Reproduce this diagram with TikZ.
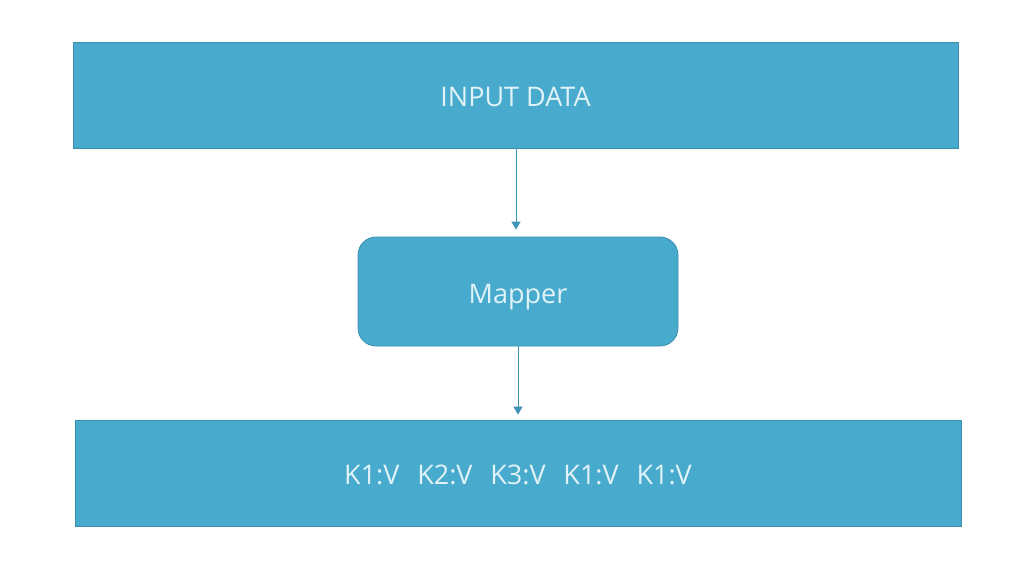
\documentclass[tikz,border=0pt]{standalone}
\usepackage{fontspec}
\setmainfont{Open Sans}
\usepackage{tikz}
\usetikzlibrary{arrows.meta}
\definecolor{boxblue}{RGB}{72,170,204}
\definecolor{edgeblue}{RGB}{58,143,175}
\definecolor{textwhite}{RGB}{225,243,248}
\tikzset{
  bar/.style={draw=edgeblue, line width=0.8, fill=boxblue, text=textwhite,
    minimum height=106, inner sep=0, text height=19.5, text depth=0,
    font=\fontsize{27}{32}\selectfont},
  flow/.style={draw=edgeblue!80!boxblue, line width=1, -{Triangle[length=8,width=9]}}
}
\begin{document}
\begin{tikzpicture}[x=1pt,y=-1pt]
\useasboundingbox (0,0) rectangle (1023,566);
\node[bar, minimum width=885] (input) at (515.5,95) {\raisebox{-2pt}{INPUT DATA}};
\node[bar, minimum width=320, minimum height=109, rounded corners=18] (mapper) at (518,291.5) {\raisebox{-2.5pt}{Mapper}};
\node[bar, minimum width=886] (output) at (518,473) {\raisebox{-1.5pt}{K1:V\hspace{0.4em} K2:V\hspace{0.4em} K3:V\hspace{0.4em} K1:V\hspace{0.4em} K1:V}};
%Arrows
\draw[flow, shorten >=7] (input.south -| 516,0) -- (mapper.north -| 516,0);
\draw[flow, shorten >=5] (mapper.south) -- (output.north -| mapper.south);
\end{tikzpicture}
\end{document}
